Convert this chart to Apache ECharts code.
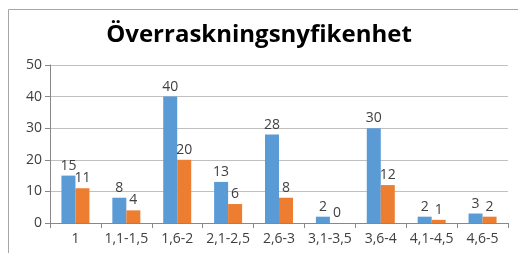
<!DOCTYPE html>
<html lang="sv">
<head>
<meta charset="UTF-8">
<title>Överraskningsnyfikenhet</title>
<script src="https://cdn.jsdelivr.net/npm/echarts@6/dist/echarts.min.js"></script>
<style>
html,body{margin:0;padding:0;background:#fff;}
#main{width:518px;height:253px;}
</style>
</head>
<body>
<div id="main"></div>
<script type="text/javascript">
var categories = ['1', '1,1-1,5', '1,6-2', '2,1-2,5', '2,6-3', '3,1-3,5', '3,6-4', '4,1-4,5', '4,6-5'];
var blueValues = [15, 8, 40, 13, 28, 2, 30, 2, 3];
var orangeValues = [11, 4, 20, 6, 8, 0, 12, 1, 2];

var chart = echarts.init(document.getElementById('main'));
var labelStyle = {
    show: true,
    position: 'top',
    distance: 3,
    color: '#404040',
    fontSize: 14,
    fontFamily: 'Open Sans'
};
var option = {
    animation: false,
    title: {
        text: 'Överraskningsnyfikenhet',
        left: 'center',
        top: 18,
        textStyle: {
            fontFamily: 'Open Sans',
            fontWeight: 'bold',
            fontSize: 24,
            color: '#000'
        }
    },
    graphic: [{
        type: 'rect',
        shape: {x: 8.5, y: 9.5, width: 530, height: 260},
        style: {fill: 'none', stroke: '#a6a6a6', lineWidth: 1},
        silent: true
    }],
    grid: {left: 50, right: 10, top: 65, bottom: 30},
    xAxis: {
        type: 'category',
        data: categories,
        axisLine: {lineStyle: {color: '#888'}},
        axisTick: {show: true, length: 5, lineStyle: {color: '#888'}},
        axisLabel: {color: '#404040', fontSize: 14, fontFamily: 'Open Sans', margin: 9, interval: 0}
    },
    yAxis: {
        type: 'value',
        min: 0,
        max: 50,
        interval: 10,
        axisLine: {show: true, lineStyle: {color: '#888'}},
        axisTick: {show: true, length: 5, lineStyle: {color: '#888'}},
        axisLabel: {color: '#404040', fontSize: 14, fontFamily: 'Open Sans', margin: 8},
        splitLine: {lineStyle: {color: '#c0c0c0'}}
    },
    series: [{
        type: 'bar',
        data: blueValues,
        barWidth: 14,
        barGap: '0%',
        itemStyle: {color: '#5b9bd5'},
        label: labelStyle
    }, {
        type: 'bar',
        data: orangeValues,
        barWidth: 14,
        itemStyle: {color: '#ed7d31'},
        label: labelStyle
    }]
};
chart.setOption(option);
</script>
</body>
</html>
